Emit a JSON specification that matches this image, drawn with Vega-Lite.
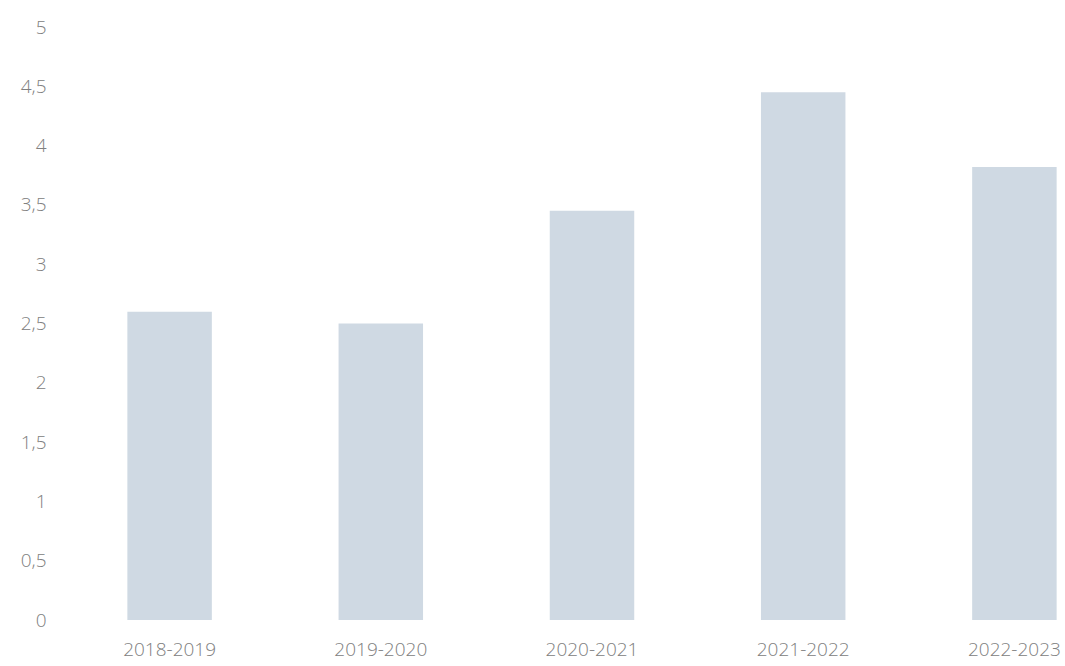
{
  "$schema": "https://vega.github.io/schema/vega-lite/v6.json",
  "autosize": "none",
  "width": 1056,
  "height": 593,
  "padding": {"left": 64, "top": 27, "right": 0, "bottom": 46},
  "background": "white",
  "data": {"values": [
    {"period": "2018-2019", "value": 2.6},
    {"period": "2019-2020", "value": 2.5},
    {"period": "2020-2021", "value": 3.45},
    {"period": "2021-2022", "value": 4.45},
    {"period": "2022-2023", "value": 3.82}
  ]},
  "mark": {"type": "bar", "color": "#cfd9e3"},
  "encoding": {
    "x": {"field": "period", "type": "nominal", "sort": null, "title": null,
      "scale": {"paddingInner": 0.6, "paddingOuter": 0.3},
      "axis": {"labelAngle": 0, "domain": false, "ticks": false, "labelPadding": 20, "labelFont": "Open Sans", "labelFontSize": 19, "labelColor": "#808080", "labelFontWeight": 300}},
    "y": {"field": "value", "type": "quantitative", "title": null,
      "scale": {"domain": [0, 5]},
      "axis": {"values": [0, 0.5, 1, 1.5, 2, 2.5, 3, 3.5, 4, 4.5, 5], "grid": false, "domain": false, "ticks": false, "labelPadding": 18, "labelExpr": "replace(toString(datum.value), '.', ',')", "labelFont": "Open Sans", "labelFontSize": 19, "labelColor": "#808080", "labelFontWeight": 300}}
  },
  "config": {"view": {"stroke": null}}
}
